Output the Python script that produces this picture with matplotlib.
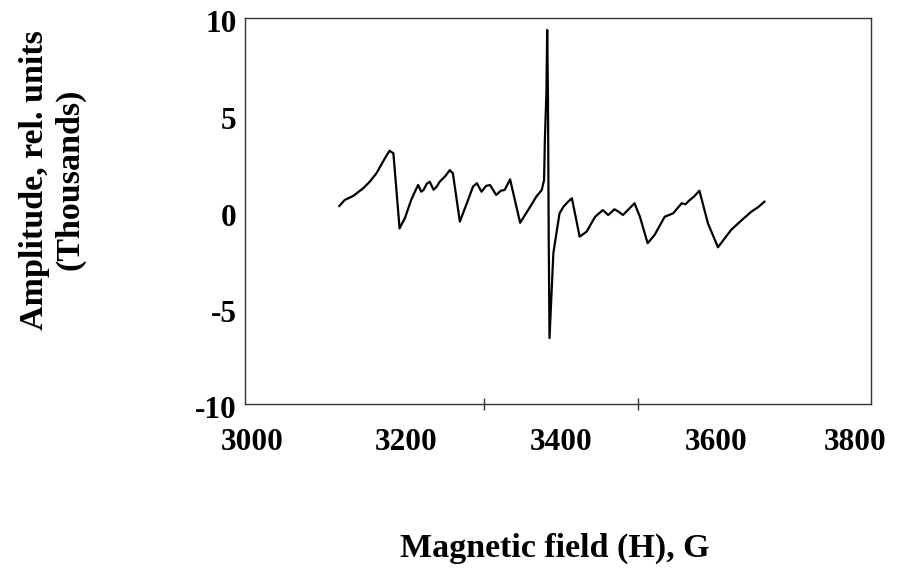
import matplotlib
matplotlib.use("Agg")
import matplotlib.pyplot as plt
from matplotlib.transforms import ScaledTranslation

# EPR spectrum, values
field = [3113, 3120, 3131, 3144, 3152, 3161, 3172, 3178, 3183, 3191, 3198,
         3206, 3212, 3215, 3219, 3222, 3226, 3230, 3235, 3239, 3243, 3250,
         3256, 3260, 3269, 3278, 3286, 3291, 3297, 3303, 3308, 3316, 3322,
         3327, 3334, 3347, 3360, 3368, 3375, 3378, 3379, 3381, 3382, 3383,
         3384, 3385, 3390, 3394, 3398, 3403, 3409, 3414, 3424, 3433, 3444,
         3454, 3461, 3469, 3475, 3480, 3495, 3502, 3512, 3521, 3534, 3545,
         3556, 3561, 3566, 3572, 3579, 3590, 3603, 3612, 3620, 3633, 3646,
         3655, 3663]
amplitude = [0.26, 0.57, 0.78, 1.18, 1.50, 1.95, 2.73, 3.12, 2.99, -0.90, -0.36,
             0.57, 1.10, 1.35, 1.00, 1.09, 1.40, 1.52, 1.10, 1.26, 1.52, 1.80,
             2.12, 1.95, -0.55, 0.40, 1.26, 1.44, 1.00, 1.30, 1.35, 0.83, 1.05,
             1.09, 1.64, -0.61, 0.22, 0.75, 1.09, 1.61, 3.68, 6.11, 9.38, 6.00,
             -1.50, -6.58, -2.18, -1.14, -0.12, 0.22, 0.48, 0.66, -1.33, -1.07, -0.30,
             0.05, -0.21, 0.09, -0.05, -0.21, 0.40, -0.30, -1.67, -1.24, -0.30, -0.12,
             0.40, 0.35, 0.55, 0.75, 1.05, -0.64, -1.88, -1.40, -0.98, -0.50, -0.04,
             0.20, 0.48]

x_ticks = [3000, 3200, 3400, 3600, 3800]
y_ticks = [-10, -5, 0, 5, 10]

plt.rcParams['font.family'] = ['Liberation Serif', 'DejaVu Serif']
plt.rcParams['font.weight'] = 'bold'

fig = plt.figure(figsize=(8.99, 5.78), dpi=100)
ax = fig.add_axes([245/899, 1 - 404/578, (871 - 245)/899, (404 - 18)/578])

ax.plot(field, amplitude, color='black', lw=1.6)

ax.set_xlim(2991, 3801)
ax.set_ylim(-10, 10)

ax.set_xticks(x_ticks)
ax.set_xticklabels([str(t) for t in x_ticks], fontsize=22.5, fontweight='bold')
ax.set_yticks(y_ticks)
ax.set_yticklabels([str(t) for t in y_ticks], fontsize=22.5, fontweight='bold')
ax.tick_params(axis='x', length=0, pad=17)
ax.tick_params(axis='y', length=0, pad=6)

# the few odd tick marks of the original
ax.set_xticks([3300, 3500], minor=True)
ax.set_yticks([0], minor=True)
ax.tick_params(which='minor', direction='inout', length=8, width=1, color='#333333')

for s in ax.spines.values():
    s.set_color('#333333')
    s.set_linewidth(1.0)

# last x label sits a bit left in the original, y labels a bit low
lbl = ax.get_xticklabels()[-1]
lbl.set_transform(lbl.get_transform() + ScaledTranslation(-0.15, 0, fig.dpi_scale_trans))
for lbl in ax.get_yticklabels():
    lbl.set_transform(lbl.get_transform() + ScaledTranslation(0, -0.035, fig.dpi_scale_trans))

fig.text(0.058, 0.689, "Amplitude, rel. units\n(Thousands)", rotation=90,
         ha='center', va='center', multialignment='center',
         fontsize=24.5, fontweight='bold')
fig.text(0.617, 1 - 548/578, "Magnetic field (H), G", ha='center', va='center',
         fontsize=24.5, fontweight='bold')

fig.savefig("out.png", dpi=100)
